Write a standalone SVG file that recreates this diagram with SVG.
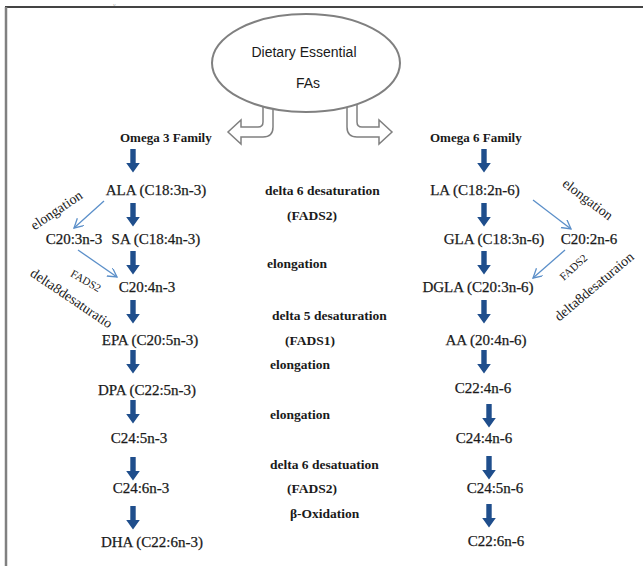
<svg xmlns="http://www.w3.org/2000/svg" xmlns:xlink="http://www.w3.org/1999/xlink" width="643" height="566" viewBox="0 0 643 566">
<style>
.lbl{font-family:"Liberation Serif","Times New Roman",serif;font-size:15px;fill:#1a1a1a;stroke:#1a1a1a;stroke-width:0.25;text-anchor:middle}
.mid{font-family:"Liberation Serif","Times New Roman",serif;font-size:13.5px;font-weight:bold;fill:#1a1a1a}
.fam{font-family:"Liberation Serif","Times New Roman",serif;font-size:13px;font-weight:bold;fill:#1a1a1a}
.rot{font-family:"Liberation Serif","Times New Roman",serif;font-size:14px;fill:#1a1a1a;text-anchor:middle}
.rots{font-family:"Liberation Serif","Times New Roman",serif;font-size:11px;fill:#1a1a1a;text-anchor:middle}
.ell{font-family:"Liberation Sans Narrow","Liberation Sans",Arial,sans-serif;font-size:14px;fill:#1a1a1a}
.thick{fill:#1f4e8c}
.thin{stroke:#5b8fc9;stroke-width:1.3;fill:none;marker-end:url(#ah)}
.hollow{fill:#fff;stroke:#808080;stroke-width:1.5}
</style>
<defs>
<marker id="ah" markerUnits="userSpaceOnUse" markerWidth="12" markerHeight="12" refX="9" refY="5" orient="auto">
<path d="M0,0 L9,5 L0,10" fill="none" stroke="#5b8fc9" stroke-width="1.3"/>
</marker>
<path id="ta" d="M-2.7,0 H2.7 V14 H6.8 L0,23.5 L-6.8,14 H-2.7 Z"/>
</defs>
<rect width="643" height="566" fill="#fff"/>
<text x="113" y="7" font-family="Liberation Serif,serif" font-style="italic" font-size="6" fill="#b0b0b0">y</text>
<g id="frame" fill="none">
<line x1="5" y1="7" x2="643" y2="7" stroke="#444" stroke-width="2"/>
<line x1="6" y1="7" x2="6" y2="566" stroke="#808080" stroke-width="2.5"/>
</g>
<g id="connectors">
<path class="hollow" d="M263,100 V122 Q263,127 258,127 H241 V120 L228,132 L241,144 V137 H263 Q273,137 273,127 V100 Z"/>
<path class="hollow" d="M357,100 V122 Q357,127 362,127 H379 V120 L392,132 L379,144 V137 H357 Q347,137 347,127 V100 Z"/>
<g class="thick">
<use xlink:href="#ta" x="133" y="149"/>
<use xlink:href="#ta" x="133" y="203"/>
<use xlink:href="#ta" x="133" y="251"/>
<use xlink:href="#ta" x="133" y="300"/>
<use xlink:href="#ta" x="133" y="350"/>
<use xlink:href="#ta" x="133" y="400"/>
<use xlink:href="#ta" x="133" y="457"/>
<use xlink:href="#ta" x="133" y="506"/>
<use xlink:href="#ta" x="484" y="149"/>
<use xlink:href="#ta" x="484" y="203"/>
<use xlink:href="#ta" x="484" y="251"/>
<use xlink:href="#ta" x="484" y="300"/>
<use xlink:href="#ta" x="484" y="350"/>
<use xlink:href="#ta" x="489" y="404"/>
<use xlink:href="#ta" x="489" y="456"/>
<use xlink:href="#ta" x="489" y="504"/>
</g>
<line class="thin" x1="104" y1="201" x2="74" y2="228"/>
<line class="thin" x1="78" y1="250" x2="117" y2="277"/>
<line class="thin" x1="533" y1="200" x2="571" y2="229"/>
<line class="thin" x1="565" y1="250" x2="533" y2="278"/>
</g>
<g id="source">
<ellipse cx="306" cy="63" rx="94" ry="49" fill="#fff" stroke="#808080" stroke-width="2"/>
<text class="ell" x="304" y="57" text-anchor="middle">Dietary Essential</text>
<text class="ell" x="308" y="88" text-anchor="middle">FAs</text>
</g>
<g id="omega3">
<text class="fam" x="120" y="142">Omega 3 Family</text>
<text class="lbl" x="156" y="195">ALA (C18:3n-3)</text>
<text class="lbl" x="74" y="244">C20:3n-3</text>
<text class="lbl" x="156" y="244">SA (C18:4n-3)</text>
<text class="lbl" x="147" y="292">C20:4n-3</text>
<text class="lbl" x="150" y="345">EPA (C20:5n-3)</text>
<text class="lbl" x="147" y="395">DPA (C22:5n-3)</text>
<text class="lbl" x="139" y="443">C24:5n-3</text>
<text class="lbl" x="141" y="493">C24:6n-3</text>
<text class="lbl" x="152" y="547">DHA (C22:6n-3)</text>
<text class="rot" transform="translate(59,214) rotate(-34)">elongation</text>
<text class="rots" transform="translate(84,284) rotate(30)">FADS2</text>
<text class="rot" transform="translate(69,302) rotate(34)">delta8desaturatio</text>
</g>
<g id="omega6">
<text class="fam" x="430" y="142">Omega 6 Family</text>
<text class="lbl" x="475" y="195">LA (C18:2n-6)</text>
<text class="lbl" x="494" y="244">GLA (C18:3n-6)</text>
<text class="lbl" x="589" y="244">C20:2n-6</text>
<text class="lbl" x="478" y="292">DGLA (C20:3n-6)</text>
<text class="lbl" x="486" y="345">AA (20:4n-6)</text>
<text class="lbl" x="483" y="393">C22:4n-6</text>
<text class="lbl" x="484" y="443">C24:4n-6</text>
<text class="lbl" x="495" y="493">C24:5n-6</text>
<text class="lbl" x="496" y="546">C22:6n-6</text>
<text class="rot" transform="translate(585,203) rotate(37)">elongation</text>
<text class="rots" transform="translate(576,270) rotate(-42)">FADS2</text>
<text class="rot" transform="translate(597,290) rotate(-40)">delta8desaturaion</text>
</g>
<g id="enzymes">
<text class="mid" x="265" y="195">delta 6 desaturation</text>
<text class="mid" x="287" y="220">(FADS2)</text>
<text class="mid" x="267" y="268">elongation</text>
<text class="mid" x="272" y="320">delta 5 desaturation</text>
<text class="mid" x="285" y="345">(FADS1)</text>
<text class="mid" x="270" y="369">elongation</text>
<text class="mid" x="270" y="419">elongation</text>
<text class="mid" x="270" y="469">delta 6 desatuation</text>
<text class="mid" x="287" y="493">(FADS2)</text>
<text class="mid" x="290" y="518">β-Oxidation</text>
</g>
</svg>
